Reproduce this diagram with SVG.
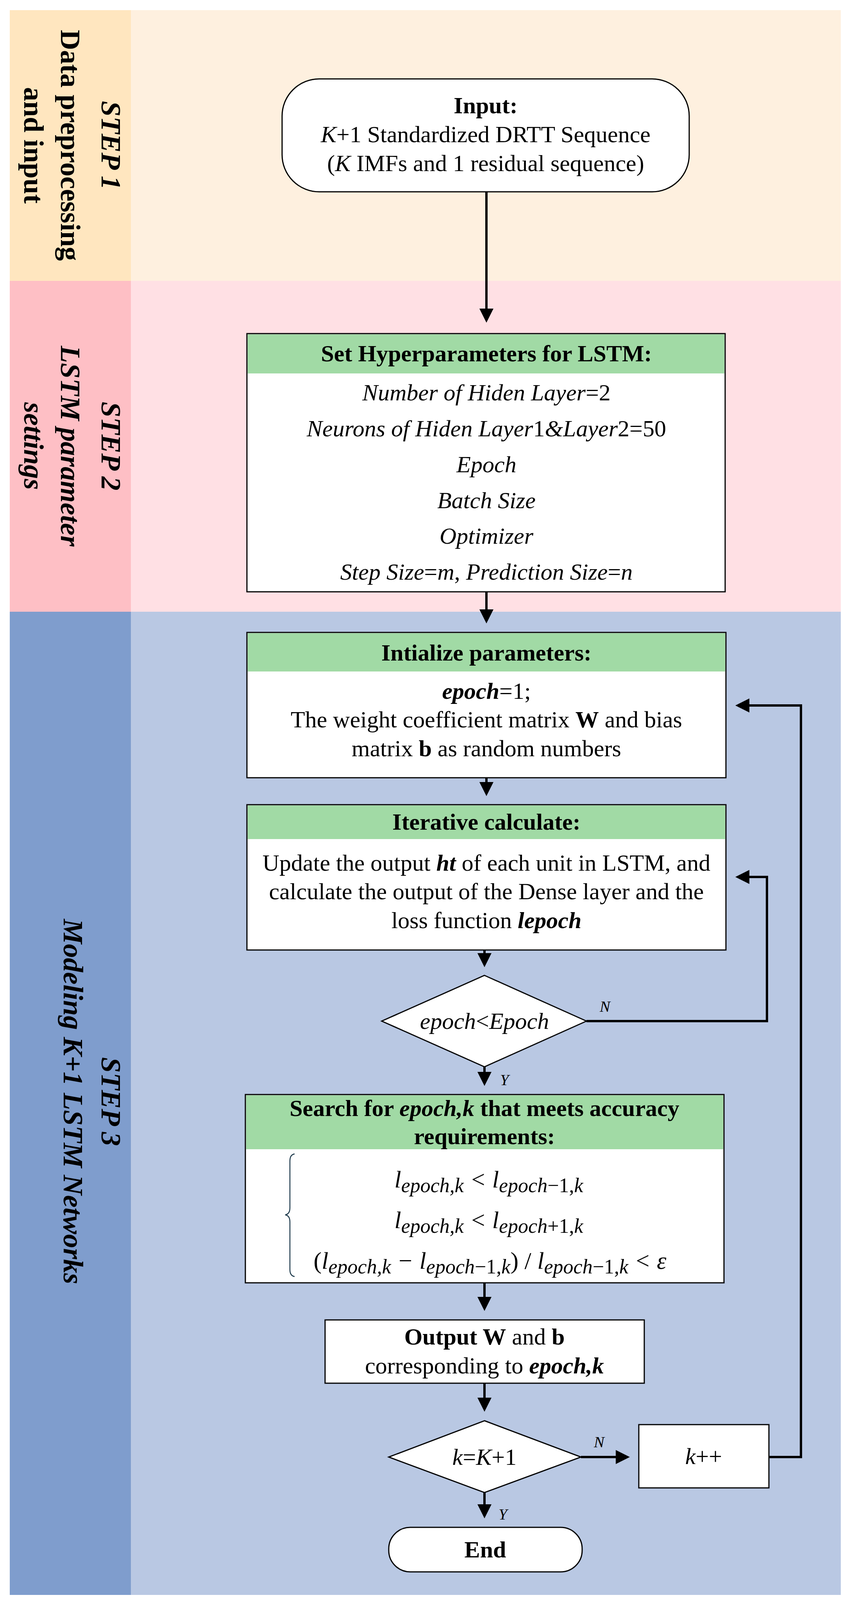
<svg xmlns="http://www.w3.org/2000/svg" width="2173" height="4109" viewBox="0 0 2173 4109">
<defs>
<style>
text{font-family:"Liberation Serif","Times New Roman",serif;fill:#000;}
.t{font-size:60px;text-anchor:middle;dominant-baseline:central;}
.h{font-size:60px;font-weight:bold;text-anchor:middle;dominant-baseline:central;}
.i{font-style:italic;}
.b{font-weight:bold;}
.bi{font-weight:bold;font-style:italic;}
.lab{font-size:72px;font-weight:bold;text-anchor:middle;dominant-baseline:central;}
.yn{font-size:40px;font-style:italic;}
.box{fill:#fff;stroke:#000;stroke-width:3;}
.hdr{fill:#A1DAA5;}
.c{fill:none;stroke:#000;stroke-width:6;}
.f{font-size:62px;font-style:italic;}
.s{font-size:52px;}
</style>
<marker id="a" markerWidth="6" markerHeight="6" refX="5" refY="3" orient="auto" markerUnits="strokeWidth">
<path d="M0,0 L6,3 L0,6 z" fill="#000"/>
</marker>
</defs>
<rect width="2173" height="4109" fill="#fff"/>
<g id="bands">
<rect x="25" y="26" width="2127" height="693" fill="#FEF0DF"/>
<rect x="25" y="26" width="310" height="693" fill="#FFE6BF"/>
<rect x="25" y="719" width="2127" height="847" fill="#FFE0E4"/>
<rect x="25" y="719" width="310" height="847" fill="#FEBFC5"/>
<rect x="25" y="1566" width="2127" height="2517" fill="#B9C8E3"/>
<rect x="25" y="1566" width="310" height="2517" fill="#7F9DCD"/>
</g>
<g id="step1" transform="translate(180,372) rotate(90)">
<text class="lab i" y="-104">STEP 1</text>
<text class="lab" y="0">Data preprocessing</text>
<text class="lab" y="94">and input</text>
</g>
<g id="step2" transform="translate(180,1142) rotate(90)">
<text class="lab i" y="-104">STEP 2</text>
<text class="lab i" y="0">LSTM parameter</text>
<text class="lab i" y="94">settings</text>
</g>
<g id="step3" transform="translate(180,2820) rotate(90)">
<text class="lab i" y="-104">STEP 3</text>
<text class="lab i" y="-7">Modeling K+1 LSTM Networks</text>
</g>
<g id="connectors">
<path class="c" d="M1245,491 V820" marker-end="url(#a)"/>
<path class="c" d="M1245,1515 V1590" marker-end="url(#a)"/>
<path class="c" d="M1245,1991 V2032" marker-end="url(#a)"/>
<path class="c" d="M1240,2432 V2470" marker-end="url(#a)"/>
<path class="c" d="M1501,2614 H1963 V2245 H1888" marker-end="url(#a)"/>
<path class="c" d="M1240,2731 V2774" marker-end="url(#a)"/>
<path class="c" d="M1240,3284 V3350" marker-end="url(#a)"/>
<path class="c" d="M1240,3541 V3608" marker-end="url(#a)"/>
<path class="c" d="M1487,3730 H1606" marker-end="url(#a)"/>
<path class="c" d="M1968,3730 H2050 V1806 H1888" marker-end="url(#a)"/>
<path class="c" d="M1240,3821 V3881" marker-end="url(#a)"/>
<text class="yn" x="1535" y="2590">N</text>
<text class="yn" x="1280" y="2778">Y</text>
<text class="yn" x="1520" y="3705">N</text>
<text class="yn" x="1276" y="3890">Y</text>
</g>
<g id="input">
<rect class="box" x="722" y="202" width="1042" height="289" rx="95"/>
<text class="h" x="1243" y="270">Input:</text>
<text class="t" x="1243" y="344"><tspan class="i">K</tspan>+1 Standardized DRTT Sequence</text>
<text class="t" x="1243" y="418">(<tspan class="i">K</tspan> IMFs and 1 residual sequence)</text>
</g>
<g id="hyper">
<rect class="box" x="632" y="854" width="1224" height="661"/>
<rect class="hdr" x="634" y="856" width="1220" height="100"/>
<text class="h" x="1245" y="905">Set Hyperparameters for LSTM:</text>
<text class="t i" x="1245" y="1005">Number of Hiden Layer<tspan font-style="normal">=2</tspan></text>
<text class="t i" x="1245" y="1097">Neurons of Hiden Layer<tspan font-style="normal">1</tspan>&amp;Layer<tspan font-style="normal">2=50</tspan></text>
<text class="t i" x="1245" y="1189">Epoch</text>
<text class="t i" x="1245" y="1281">Batch Size</text>
<text class="t i" x="1245" y="1372">Optimizer</text>
<text class="t i" x="1245" y="1464">Step Size<tspan font-style="normal">=</tspan>m<tspan font-style="normal">, </tspan>Prediction Size<tspan font-style="normal">=</tspan>n</text>
</g>
<g id="init">
<rect class="box" x="632" y="1619" width="1226" height="372"/>
<rect class="hdr" x="634" y="1621" width="1222" height="98"/>
<text class="h" x="1245" y="1671">Intialize parameters:</text>
<text class="t" x="1245" y="1769"><tspan class="bi">epoch</tspan>=1;</text>
<text class="t" x="1245" y="1842">The weight coefficient matrix <tspan class="b">W</tspan> and bias</text>
<text class="t" x="1245" y="1916">matrix <tspan class="b">b</tspan> as random numbers</text>
</g>
<g id="iter">
<rect class="box" x="632" y="2060" width="1226" height="372"/>
<rect class="hdr" x="634" y="2062" width="1222" height="86"/>
<text class="h" x="1245" y="2104">Iterative calculate:</text>
<text class="t" x="1245" y="2209">Update the output <tspan class="bi">ht</tspan> of each unit in LSTM, and</text>
<text class="t" x="1245" y="2282">calculate the output of the Dense layer and the</text>
<text class="t" x="1245" y="2356">loss function <tspan class="bi">lepoch</tspan></text>
</g>
<g id="dec1">
<polygon class="box" points="1240,2497 1501,2614 1240,2731 977,2614"/>
<text class="t i" x="1240" y="2614">epoch<tspan font-style="normal">&lt;</tspan>Epoch</text>
</g>
<g id="search">
<rect class="box" x="628" y="2802" width="1225" height="482"/>
<rect class="hdr" x="630" y="2804" width="1221" height="138"/>
<text class="h" x="1240" y="2837">Search for <tspan class="bi">epoch,k</tspan> that meets accuracy</text>
<text class="h" x="1240" y="2909">requirements:</text>
<path d="M754,2954 Q742,2956 742,2972 V3092 Q742,3108 730,3110 Q742,3112 742,3128 V3250 Q742,3266 754,3268" fill="none" stroke="#1f3b4d" stroke-width="2.5"/>
<text class="f" x="1251" y="3040" text-anchor="middle">l<tspan class="s" dy="12">epoch,k</tspan><tspan dy="-12"> &lt; l</tspan><tspan class="s" dy="12">epoch<tspan font-style="normal">−1,</tspan>k</tspan></text>
<text class="f" x="1251" y="3144" text-anchor="middle">l<tspan class="s" dy="12">epoch,k</tspan><tspan dy="-12"> &lt; l</tspan><tspan class="s" dy="12">epoch<tspan font-style="normal">+1,</tspan>k</tspan></text>
<text class="f" x="1254" y="3248" text-anchor="middle"><tspan font-style="normal">(</tspan>l<tspan class="s" dy="12">epoch,k</tspan><tspan dy="-12"> − l</tspan><tspan class="s" dy="12">epoch<tspan font-style="normal">−1,</tspan>k</tspan><tspan dy="-12" font-style="normal">) / </tspan>l<tspan class="s" dy="12">epoch<tspan font-style="normal">−1,</tspan>k</tspan><tspan dy="-12"> &lt; ε</tspan></text>
</g>
<g id="output">
<rect class="box" x="832" y="3379" width="817" height="162"/>
<text class="t" x="1240" y="3422"><tspan class="b">Output W</tspan> and <tspan class="b">b</tspan></text>
<text class="t" x="1240" y="3496">corresponding to <tspan class="bi">epoch,k</tspan></text>
</g>
<g id="dec2">
<polygon class="box" points="1240,3637 1487,3730 1240,3821 995,3730"/>
<text class="t" x="1240" y="3730"><tspan class="i">k</tspan>=<tspan class="i">K</tspan>+1</text>
</g>
<g id="kpp">
<rect class="box" x="1635" y="3647" width="333" height="162"/>
<text class="t" x="1801" y="3728"><tspan class="i">k</tspan>++</text>
</g>
<g id="end">
<rect class="box" x="995" y="3910" width="495" height="114" rx="55"/>
<text class="h" x="1242" y="3967">End</text>
</g>
</svg>
